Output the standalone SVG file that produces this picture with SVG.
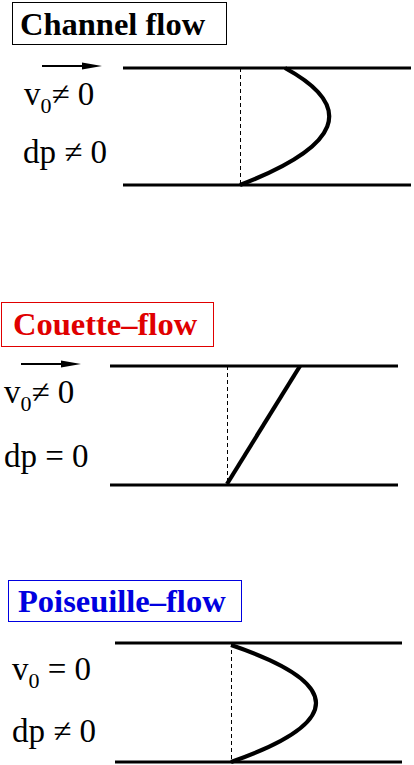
<svg xmlns="http://www.w3.org/2000/svg" width="414" height="765" viewBox="0 0 414 765">
<style>
.title{font-weight:bold;font-size:32.5px}
.lbl{font-size:33px;fill:#000}
.wall{stroke:#000;stroke-width:3.2;fill:none}
.dash{stroke:#000;stroke-width:1;stroke-dasharray:4,3;fill:none}
.prof{stroke:#000;stroke-width:4.2;fill:none;stroke-linecap:butt}
.arr{stroke:#000;stroke-width:2;fill:none}
</style>
<rect width="414" height="765" fill="#fff"/>

<g id="channel" font-family="Liberation Serif, Times New Roman, serif">
  <rect x="12.5" y="2.5" width="214" height="42" fill="none" stroke="#000" stroke-width="1"/>
  <text class="title" x="20" y="35" fill="#000" font-family="Liberation Serif, serif">Channel flow</text>
  <text class="lbl" x="24" y="105" font-family="Liberation Serif, serif">v<tspan font-size="22" dy="8">0</tspan><tspan dy="-8">≠ 0</tspan></text>
  <text class="lbl" x="23" y="163" font-family="Liberation Serif, serif">dp ≠ 0</text>
  <line class="wall" x1="123" y1="68" x2="411" y2="68"/>
  <line class="wall" x1="123" y1="185" x2="411" y2="185"/>
  <line class="dash" x1="240.5" y1="68" x2="240.5" y2="185"/>
  <path class="prof" d="M240,185 Q392,126.5 285,68"/>
</g>

<g id="couette" font-family="Liberation Serif, Times New Roman, serif">
  <rect x="1.5" y="302.5" width="212" height="44" fill="none" stroke="#e00000" stroke-width="1"/>
  <text class="title" x="13" y="335" fill="#e00000" font-family="Liberation Serif, serif">Couette–flow</text>
  <text class="lbl" x="4" y="403" font-family="Liberation Serif, serif">v<tspan font-size="22" dy="8">0</tspan><tspan dy="-8">≠ 0</tspan></text>
  <text class="lbl" x="4" y="467" font-family="Liberation Serif, serif">dp = 0</text>
  <line class="wall" x1="110" y1="366" x2="398" y2="366"/>
  <line class="wall" x1="110" y1="485" x2="398" y2="485"/>
  <line class="dash" x1="227.5" y1="366" x2="227.5" y2="485"/>
  <line class="prof" x1="227" y1="484" x2="300" y2="366"/>
</g>

<g id="poiseuille" font-family="Liberation Serif, Times New Roman, serif">
  <rect x="8.5" y="580.5" width="233" height="41" fill="none" stroke="#0000e0" stroke-width="1"/>
  <text class="title" x="18" y="612" fill="#0000e0" font-family="Liberation Serif, serif">Poiseuille–flow</text>
  <text class="lbl" x="12" y="680" font-family="Liberation Serif, serif">v<tspan font-size="22" dy="8">0</tspan><tspan dy="-8"> = 0</tspan></text>
  <text class="lbl" x="12" y="742" font-family="Liberation Serif, serif">dp ≠ 0</text>
  <line class="wall" x1="115" y1="643" x2="402" y2="643"/>
  <line class="wall" x1="115" y1="762" x2="402" y2="762"/>
  <line class="dash" x1="231.5" y1="643" x2="231.5" y2="762"/>
  <path class="prof" d="M231,645 Q401,702.5 231,762"/>
</g>

<g id="connectors">
  <line class="arr" x1="42" y1="66" x2="86" y2="66"/>
  <polygon points="82,62.5 102,66 82,69.5" fill="#000"/>
  <line class="arr" x1="21" y1="364" x2="65" y2="364"/>
  <polygon points="61,360.5 81,364 61,367.5" fill="#000"/>
</g>
</svg>
